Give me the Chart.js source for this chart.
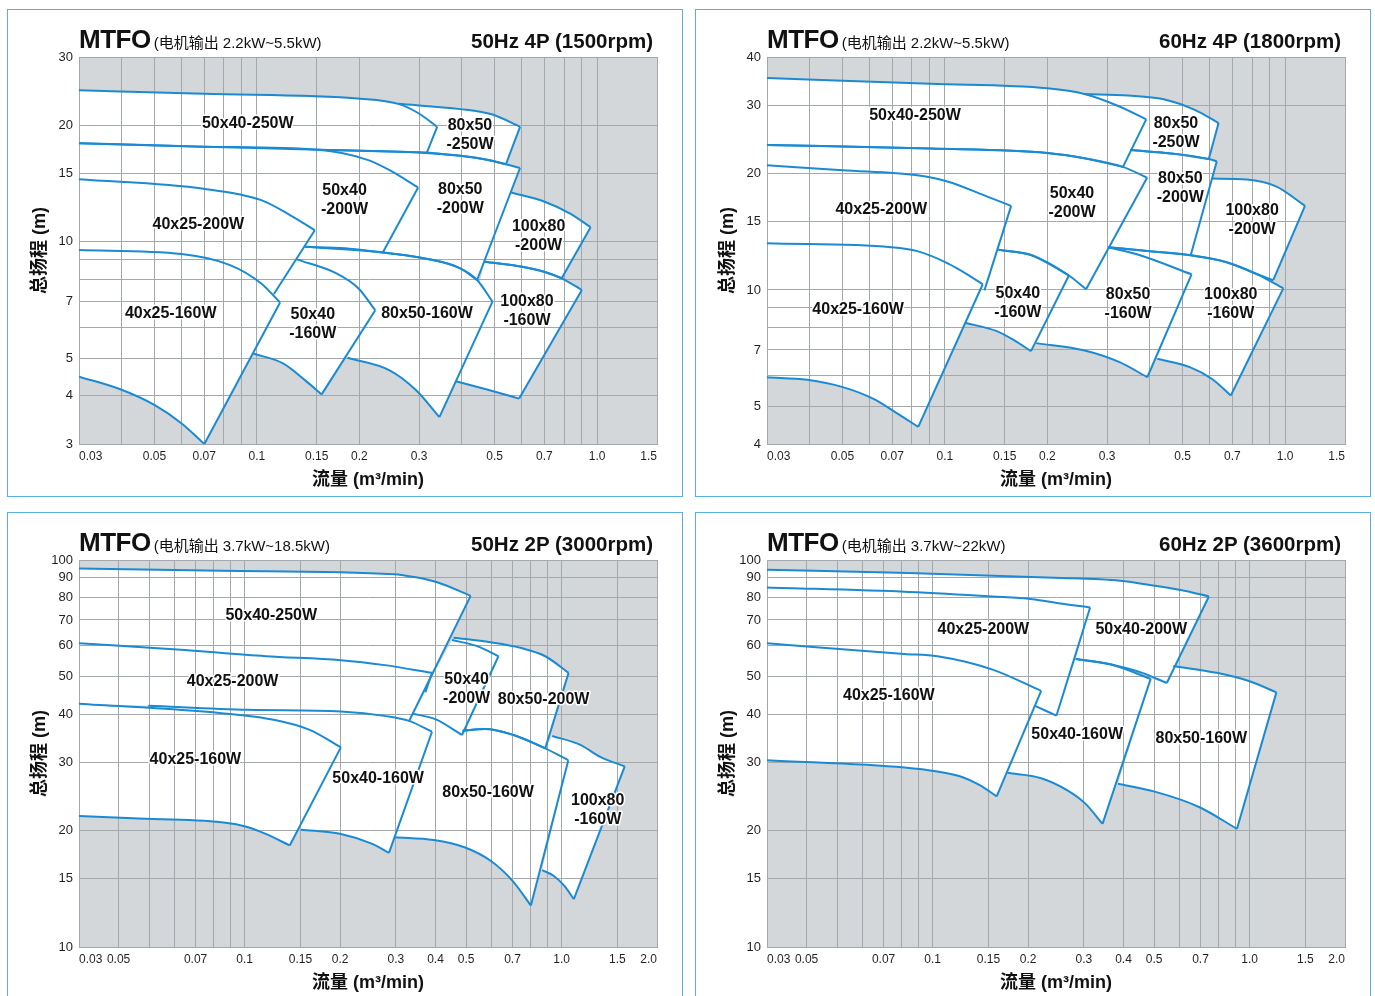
<!DOCTYPE html>
<html>
<head>
<meta charset="utf-8">
<script src="https://cdn.jsdelivr.net/npm/chart.js@4.4.1/dist/chart.umd.min.js"></script>
<style>
  body { margin: 0; width: 1375px; height: 996px; overflow: hidden; background: #fff;
         font-family: 'Liberation Sans', 'Noto Sans CJK SC', sans-serif; color: #111; }
  .panel { position: absolute; width: 676px; height: 488px; border: 1px solid #5aaee3; box-sizing: border-box; }
  .panel canvas { position: absolute; left: -1px; top: -1px; }
  .head { position: absolute; left: 71px; width: 574px; top: 14px; display: flex;
          justify-content: space-between; align-items: baseline; }
  .brand { font-weight: bold; font-size: 26px; letter-spacing: -0.5px; }
  .sub { font-size: 15px; margin-left: 3px; }
  .hz { font-weight: bold; font-size: 20.5px; }
</style>
</head>
<body>

<div class="panel" style="left:7px;top:9px">
  <canvas id="cA" width="676" height="488"></canvas>
  <div class="head"><span><span class="brand">MTFO</span><span class="sub">(电机输出 2.2kW~5.5kW)</span></span><span class="hz">50Hz 4P (1500rpm)</span></div>
</div>
<div class="panel" style="left:695px;top:9px">
  <canvas id="cB" width="676" height="488"></canvas>
  <div class="head"><span><span class="brand">MTFO</span><span class="sub">(电机输出 2.2kW~5.5kW)</span></span><span class="hz">60Hz 4P (1800rpm)</span></div>
</div>
<div class="panel" style="left:7px;top:512px">
  <canvas id="cC" width="676" height="488"></canvas>
  <div class="head"><span><span class="brand">MTFO</span><span class="sub">(电机输出 3.7kW~18.5kW)</span></span><span class="hz">50Hz 2P (3000rpm)</span></div>
</div>
<div class="panel" style="left:695px;top:512px">
  <canvas id="cD" width="676" height="488"></canvas>
  <div class="head"><span><span class="brand">MTFO</span><span class="sub">(电机输出 3.7kW~22kW)</span></span><span class="hz">60Hz 2P (3600rpm)</span></div>
</div>

<script>
// ---- axes: grid lines and tick labels ----
const xGrid4P = [0.03,0.04,0.05,0.06,0.07,0.08,0.09,0.1,0.15,0.2,0.3,0.4,0.5,0.6,0.7,0.8,0.9,1.0,1.5];
const xLabelAt4P = [0.03,0.05,0.07,0.1,0.15,0.2,0.3,0.5,0.7,1.0,1.5];
const xLabelText4P = ['0.03','0.05','0.07','0.1','0.15','0.2','0.3','0.5','0.7','1.0','1.5'];
const xGrid2P = [0.03,0.04,0.05,0.06,0.07,0.08,0.09,0.1,0.15,0.2,0.3,0.4,0.5,0.6,0.7,0.8,0.9,1.0,1.5,2.0];
const xLabelAt2P = [0.03,0.04,0.07,0.1,0.15,0.2,0.3,0.4,0.5,0.7,1.0,1.5,2.0];
const xLabelText2P = ['0.03','0.05','0.07','0.1','0.15','0.2','0.3','0.4','0.5','0.7','1.0','1.5','2.0'];

const yGridA = [3,4,5,6,7,8,9,10,15,20,30];
const yLabelA = [3,4,5,7,10,15,20,30];
const yGridB = [4,5,6,7,8,9,10,15,20,30,40];
const yLabelB = [4,5,7,10,15,20,30,40];
const yGrid2P = [10,15,20,30,40,50,60,70,80,90,100];
const yLabel2P = [10,15,20,30,40,50,60,70,80,90,100];

// ---- 50Hz 4P (1500rpm): [flow m3/min, head m] ----
const a_40x25_160W_top = [[0.03,9.51],[0.0601,9.29],[0.0834,8.70],[0.103,7.80],[0.117,6.96]];
const a_40x25_160W_bot = [[0.03,4.48],[0.0395,4.16],[0.0501,3.78],[0.0601,3.39],[0.0701,3.0]];
const a_40x25_200W_top = [[0.03,14.5],[0.0697,13.7],[0.103,12.8],[0.1234,11.8],[0.148,10.7]];
const a_40x25_200W_bot = [[0.03,9.51],[0.1122,7.32]];
const a_50x40_250W_top = [[0.03,24.6],[0.07,24.1],[0.2018,23.4],[0.2602,22.7],[0.2978,21.5],[0.3388,19.8]];
const a_50x40_250W_bot = [[0.03,17.96],[0.0697,17.6],[0.1517,17.27],[0.3162,17.0]];
const a_80x50_250W_top = [[0.2602,22.7],[0.396,22.0],[0.4926,21.3],[0.5936,19.8]];
const a_80x50_250W_bot = [[0.3162,17.0],[0.396,16.66],[0.4747,16.27],[0.5397,15.85]];
const a_50x40_200W_top = [[0.03,17.96],[0.0697,17.6],[0.1517,17.27],[0.2115,16.27],[0.2455,15.3],[0.2978,13.8]];
const a_50x40_200W_bot = [[0.1387,9.70],[0.1816,9.61],[0.2345,9.38]];
const a_50x40_200W_left = [[0.148,10.7],[0.03,14.5]];
const a_80x50_200W_top = [[0.1517,17.27],[0.2978,17.0],[0.396,16.66],[0.4747,16.27],[0.5397,15.85],[0.5936,15.5]];
const a_80x50_200W_bot = [[0.2345,9.38],[0.3117,9.05],[0.396,8.53],[0.4439,7.96]];
const a_50x40_160W_top = [[0.1309,9.0],[0.1713,8.28],[0.199,7.57],[0.2228,6.65]];
const a_50x40_160W_bot = [[0.0975,5.14],[0.1197,4.84],[0.1387,4.38],[0.155,4.03]];
const a_50x40_160W_left = [[0.117,6.96],[0.1122,7.32]];
const a_80x50_160W_top = [[0.1387,9.70],[0.2345,9.38],[0.3117,9.05],[0.396,8.53],[0.4439,7.96],[0.4926,7.0]];
const a_80x50_160W_bot = [[0.1845,5.01],[0.2455,4.65],[0.2938,4.13],[0.344,3.52]];
const a_80x50_160W_left = [[0.1309,9.0]];
const a_100x80_200W_top = [[0.559,13.4],[0.6985,12.7],[0.836,11.8],[0.957,10.9]];
const a_100x80_200W_bot = [[0.467,8.87],[0.602,8.61],[0.6985,8.36],[0.787,8.04]];
const a_100x80_160W_top = [[0.467,8.87],[0.602,8.61],[0.6985,8.36],[0.787,8.04],[0.902,7.5]];
const a_100x80_160W_bot = [[0.3844,4.36],[0.4747,4.15],[0.590,3.93]];
const a_labels = [['50x40-250W',0.094,20.2],['80x50\n-250W',0.423,18.8],['50x40\n-200W',0.181,12.8],
  ['80x50\n-200W',0.396,12.85],['40x25-200W',0.0673,11.1],['100x80\n-200W',0.673,10.34],
  ['40x25-160W',0.0558,6.5],['50x40\n-160W',0.146,6.14],['80x50-160W',0.3163,6.5],['100x80\n-160W',0.622,6.63]];

// ---- 60Hz 4P (1800rpm) ----
const b_40x25_160W_top = [[0.03,13.2],[0.0694,12.9],[0.083,12.6],[0.1023,11.7],[0.1188,10.85],[0.1292,10.35]];
const b_40x25_160W_bot = [[0.03,5.95],[0.0394,5.86],[0.0501,5.61],[0.0617,5.23],[0.0716,4.83],[0.0835,4.43]];
const b_40x25_200W_top = [[0.03,21.0],[0.0501,20.4],[0.083,19.8],[0.1023,19.05],[0.1339,17.4],[0.1566,16.5]];
const b_40x25_200W_bot = [[0.03,13.2],[0.1307,9.98]];
const b_50x40_250W_top = [[0.03,35.3],[0.0907,34.1],[0.2,33.2],[0.2572,32.1],[0.326,29.8],[0.3906,27.6]];
const b_50x40_250W_bot = [[0.03,23.7],[0.0907,23.2],[0.2,22.6],[0.2572,21.9],[0.3338,20.8]];
const b_80x50_250W_top = [[0.2572,32.1],[0.3459,31.8],[0.4397,31.1],[0.5425,29.2],[0.6375,27.0]];
const b_80x50_250W_bot = [[0.354,23.0],[0.4696,22.5],[0.5966,21.8]];
const b_50x40_200W_top = [[0.03,23.7],[0.0907,23.2],[0.2,22.6],[0.2572,21.9],[0.3338,20.8],[0.393,19.5]];
const b_50x40_200W_bot = [[0.1437,12.7],[0.18,12.3],[0.2315,10.9],[0.26,10.05]];
const b_50x40_200W_left = [[0.1566,16.5],[0.03,21.0]];
const b_80x50_200W_top = [[0.35,23.0],[0.4696,22.5],[0.5966,21.8],[0.63,21.5]];
const b_80x50_200W_bot = [[0.302,12.9],[0.4006,12.6],[0.528,12.3]];
const b_80x50_200W_left = [[0.3338,20.8]];
const b_50x40_160W_top = [[0.1437,12.7],[0.18,12.3],[0.2315,10.9]];
const b_50x40_160W_bot = [[0.1152,8.22],[0.142,7.83],[0.16,7.41],[0.1791,6.95]];
const b_80x50_160W_top = [[0.302,12.9],[0.3745,12.3],[0.531,10.98]];
const b_80x50_160W_bot = [[0.1856,7.29],[0.2575,6.98],[0.3262,6.51],[0.3936,5.95]];
const b_80x50_160W_left = [[0.2315,10.9]];
const b_100x80_200W_top = [[0.608,19.4],[0.771,19.3],[0.944,18.5],[1.144,16.5]];
const b_100x80_200W_bot = [[0.528,12.3],[0.673,11.8],[0.825,11.0],[0.923,10.6]];
const b_100x80_160W_top = [[0.302,12.9],[0.4006,12.6],[0.528,12.3],[0.673,11.8],[0.825,11.0],[0.988,10.1]];
const b_100x80_160W_bot = [[0.421,6.64],[0.5247,6.32],[0.61,5.89],[0.6925,5.34]];
const b_labels = [['50x40-250W',0.0817,28.2],['80x50\n-250W',0.4777,25.5],['80x50\n-200W',0.492,18.3],
  ['50x40\n-200W',0.2364,16.8],['40x25-200W',0.065,16.1],['100x80\n-200W',0.8,15.2],
  ['40x25-160W',0.0556,8.9],['50x40\n-160W',0.1638,9.26],['80x50\n-160W',0.3456,9.2],['100x80\n-160W',0.6925,9.2]];

// ---- 50Hz 2P (3000rpm) ----
const c_40x25_160W_top = [[0.03,42.5],[0.0845,40.2],[0.1245,38.6],[0.1604,36.4],[0.2011,32.8]];
const c_40x25_160W_bot = [[0.03,21.8],[0.0444,21.5],[0.0845,21.0],[0.1025,20.4],[0.1165,19.6],[0.1387,18.3]];
const c_40x25_200W_top = [[0.03,60.9],[0.0612,58.7],[0.1165,56.4],[0.2011,55.1],[0.277,53.5],[0.39,51.1]];
const c_40x25_200W_bot = [[0.03,42.5],[0.3715,45.5]];
const c_50x40_250W_top = [[0.03,95.1],[0.0845,93.8],[0.2954,91.9],[0.3466,90.2],[0.407,87.5],[0.5164,80.8]];
const c_50x40_250W_bot = [[0.03,42.5],[0.0496,42.0],[0.1025,41.0],[0.2011,40.6],[0.28,39.5],[0.33,38.3]];
const c_50x40_160W_top = [[0.0496,42.0],[0.1025,41.0],[0.2011,40.6],[0.28,39.5],[0.33,38.4],[0.39,36.0]];
const c_50x40_160W_bot = [[0.1505,20.1],[0.2011,19.6],[0.2516,18.5],[0.2853,17.5]];
const c_50x40_200W_top = [[0.451,62.1],[0.541,59.9],[0.632,56.4]];
const c_50x40_200W_bot = [[0.337,40.1],[0.3994,38.8],[0.485,35.3]];
const c_80x50_200W_top = [[0.456,63.0],[0.596,61.3],[0.741,59.3],[0.888,56.4],[1.052,51.1]];
const c_80x50_200W_bot = [[0.487,36.2],[0.574,36.6],[0.7054,35.3],[0.888,32.6]];
const c_80x50_160W_top = [[0.487,36.2],[0.574,36.6],[0.7054,35.3],[0.888,32.6],[1.05,30.4]];
const c_80x50_160W_bot = [[0.2983,19.2],[0.395,18.9],[0.4937,18.1],[0.597,16.7],[0.7013,14.8],[0.80,12.8]];
const c_80x50_160W_left = [[0.39,36.0],[0.33,38.3],[0.337,40.1],[0.3994,38.8],[0.485,35.3]];
const c_100x80_160W_top = [[0.934,35.1],[1.146,33.3],[1.324,31.0],[1.582,29.3]];
const c_100x80_160W_bot = [[0.868,15.8],[0.9406,15.3],[1.019,14.4],[1.093,13.3]];
const c_100x80_160W_left = [[1.05,30.4],[0.888,32.6]];
const c_labels = [['50x40-250W',0.1213,71.7],['40x25-200W',0.0916,48.6],['50x40\n-200W',0.5015,46.4],
  ['80x50-200W',0.8776,43.7],['40x25-160W',0.0699,30.5],['50x40-160W',0.2637,27.3],
  ['80x50-160W',0.586,25.0],['100x80\n-160W',1.3,22.6]];

// ---- 60Hz 2P (3600rpm) ----
const d_40x25_160W_top = [[0.03,60.9],[0.0815,57.2],[0.1035,56.4],[0.1545,52.1],[0.2199,45.9]];
const d_40x25_160W_bot = [[0.03,30.4],[0.0815,29.1],[0.1035,28.4],[0.1238,27.5],[0.1408,26.2],[0.1592,24.5]];
const d_40x25_200W_top = [[0.03,84.9],[0.0841,82.7],[0.1545,80.5],[0.2063,79.2],[0.2497,77.3],[0.3139,75.4]];
const d_40x25_200W_bot = [[0.2103,42.0],[0.2457,39.6]];
const d_40x25_200W_left = [[0.2199,45.9],[0.03,60.9]];
const d_50x40_200W_top = [[0.03,94.4],[0.0841,92.5],[0.2416,90.0],[0.39,88.4],[0.502,85.8],[0.628,83.2],[0.744,80.5]];
const d_50x40_200W_bot = [[0.2826,55.5],[0.366,53.7],[0.458,51.1],[0.548,48.1]];
const d_50x40_200W_left = [[0.3139,75.4],[0.03,84.9]];
const d_50x40_160W_top = [[0.2826,55.5],[0.366,53.7],[0.4873,49.3]];
const d_50x40_160W_bot = [[0.172,28.2],[0.2199,27.3],[0.2661,25.4],[0.3027,23.5],[0.3435,20.8]];
const d_50x40_160W_left = [[0.2103,42.0],[0.2457,39.6]];
const d_80x50_160W_top = [[0.5746,53.2],[0.787,51.1],[1.0,48.6],[1.215,45.5]];
const d_80x50_160W_bot = [[0.3844,26.4],[0.502,25.2],[0.6925,23.0],[0.9125,20.2]];
const d_80x50_160W_left = [[0.4873,49.3],[0.548,48.1]];
const d_labels = [['40x25-200W',0.1445,66.2],['50x40-200W',0.455,66.2],['40x25-160W',0.0727,44.6],
  ['50x40-160W',0.2857,35.3],['80x50-160W',0.704,34.6]];

// ---- styles ----
const BLUE = '#1a8bd3';
const GRID = '#a3a8ac';
const PLOT_BG = '#d4d7da';
const FONT = "'Liberation Sans', 'Noto Sans CJK SC', sans-serif";

// grey plot area, and grid again between the white fills and the blue curves
const plotBg = {
  id: 'plotBg',
  beforeDraw(chart) {
    const a = chart.chartArea, ctx = chart.ctx;
    ctx.save();
    ctx.fillStyle = PLOT_BG;
    ctx.fillRect(a.left, a.top, a.right - a.left, a.bottom - a.top);
    ctx.restore();
  },
  beforeDatasetsDraw(chart) { chart.$gridAgain = false; },
  beforeDatasetDraw(chart, args) {
    if (args.meta.order === 1 && !chart.$gridAgain) {
      chart.$gridAgain = true;
      for (const s of [chart.scales.x, chart.scales.y]) {
        s.drawGrid(chart.chartArea);
        if (s.drawBorder) s.drawBorder();
      }
    }
  }
};

function labelPlugin(items) {
  return {
    id: 'pumpLabels',
    afterDatasetsDraw(chart) {
      const ctx = chart.ctx, xs = chart.scales.x, ys = chart.scales.y;
      ctx.save();
      ctx.font = 'bold 16px ' + FONT;
      ctx.textAlign = 'center';
      ctx.textBaseline = 'middle';
      ctx.lineJoin = 'round';
      ctx.lineWidth = 3;
      ctx.strokeStyle = '#fff';
      ctx.fillStyle = '#111';
      items.forEach(([text, x, y]) => {
        const lines = text.split('\n');
        const px = xs.getPixelForValue(x), py = ys.getPixelForValue(y);
        lines.forEach((t, i) => {
          const ly = py + (i - (lines.length - 1) / 2) * 19;
          ctx.strokeText(t, px, ly);
          ctx.fillText(t, px, ly);
        });
      });
      ctx.restore();
    }
  };
}

const pts = arr => arr.map(([x, y]) => ({x, y}));

function pumpSets(p) {
  const stroke = {borderColor: BLUE, borderWidth: 2, pointRadius: 0, fill: false, order: 1};
  const sets = [{
    data: pts(p.top.concat(p.bot.slice().reverse(), p.left || [])),
    fill: 'shape', backgroundColor: '#fff', borderColor: 'rgba(0,0,0,0)', borderWidth: 0,
    pointRadius: 0, tension: 0, order: 2
  }];
  sets.push({...stroke, data: pts(p.top), cubicInterpolationMode: 'monotone'});
  sets.push({...stroke, data: pts([p.top[p.top.length - 1], p.bot[p.bot.length - 1]]), tension: 0});
  if (p.drawBot !== false) sets.push({...stroke, data: pts(p.bot), cubicInterpolationMode: 'monotone'});
  return sets;
}

function makeChart(id, c) {
  const datasets = [];
  c.pumps.forEach(p => datasets.push(...pumpSets(p)));
  const tickFont = {family: FONT, size: 12};
  const titleFont = {family: FONT, size: 18, weight: 'bold'};
  return new Chart(document.getElementById(id), {
    type: 'line',
    data: {datasets},
    options: {
      responsive: false,
      animation: false,
      events: [],
      layout: {padding: {left: 22, right: 26, top: 48, bottom: 6}},
      plugins: {legend: {display: false}, tooltip: {enabled: false}},
      scales: {
        x: {
          type: 'logarithmic', min: c.xGrid[0], max: c.xGrid[c.xGrid.length - 1], bounds: 'data',
          afterBuildTicks: s => { s.ticks = c.xGrid.map(v => ({value: v})); },
          afterFit: s => { s.height = 47; },
          grid: {color: GRID, lineWidth: 1, drawTicks: false},
          border: {color: GRID, width: 1},
          ticks: {
            autoSkip: false, maxRotation: 0, minRotation: 0, padding: 5, align: 'inner',
            color: '#231f20', font: tickFont,
            callback: v => { const i = c.xLabelAt.indexOf(v); return i >= 0 ? c.xLabelText[i] : ''; }
          },
          title: {display: true, text: '流量 (m³/min)', color: '#111', font: titleFont, padding: 0}
        },
        y: {
          type: 'logarithmic', min: c.yGrid[0], max: c.yGrid[c.yGrid.length - 1], bounds: 'data',
          afterBuildTicks: s => { s.ticks = c.yGrid.map(v => ({value: v})); },
          afterFit: s => { s.width = 50; },
          grid: {color: GRID, lineWidth: 1, drawTicks: false},
          border: {color: GRID, width: 1},
          ticks: {
            autoSkip: false, padding: 6, color: '#231f20', font: {family: FONT, size: 13},
            callback: v => c.yLabelAt.includes(v) ? String(v) : ''
          },
          title: {display: true, text: '总扬程 (m)', color: '#111', font: titleFont, padding: 0}
        }
      }
    },
    plugins: [plotBg, labelPlugin(c.labels)]
  });
}

makeChart('cA', {
  xGrid: xGrid4P, xLabelAt: xLabelAt4P, xLabelText: xLabelText4P, yGrid: yGridA, yLabelAt: yLabelA,
  labels: a_labels,
  pumps: [
    {top: a_50x40_250W_top, bot: a_50x40_250W_bot},
    {top: a_80x50_250W_top, bot: a_80x50_250W_bot},
    {top: a_50x40_200W_top, bot: a_50x40_200W_bot, left: a_50x40_200W_left},
    {top: a_80x50_200W_top, bot: a_80x50_200W_bot},
    {top: a_40x25_200W_top, bot: a_40x25_200W_bot, drawBot: false},
    {top: a_100x80_200W_top, bot: a_100x80_200W_bot},
    {top: a_40x25_160W_top, bot: a_40x25_160W_bot},
    {top: a_50x40_160W_top, bot: a_50x40_160W_bot, left: a_50x40_160W_left},
    {top: a_80x50_160W_top, bot: a_80x50_160W_bot, left: a_80x50_160W_left},
    {top: a_100x80_160W_top, bot: a_100x80_160W_bot}
  ]
});

makeChart('cB', {
  xGrid: xGrid4P, xLabelAt: xLabelAt4P, xLabelText: xLabelText4P, yGrid: yGridB, yLabelAt: yLabelB,
  labels: b_labels,
  pumps: [
    {top: b_50x40_250W_top, bot: b_50x40_250W_bot},
    {top: b_80x50_250W_top, bot: b_80x50_250W_bot},
    {top: b_50x40_200W_top, bot: b_50x40_200W_bot, left: b_50x40_200W_left},
    {top: b_80x50_200W_top, bot: b_80x50_200W_bot, left: b_80x50_200W_left},
    {top: b_40x25_200W_top, bot: b_40x25_200W_bot, drawBot: false},
    {top: b_100x80_200W_top, bot: b_100x80_200W_bot},
    {top: b_40x25_160W_top, bot: b_40x25_160W_bot},
    {top: b_50x40_160W_top, bot: b_50x40_160W_bot},
    {top: b_80x50_160W_top, bot: b_80x50_160W_bot, left: b_80x50_160W_left},
    {top: b_100x80_160W_top, bot: b_100x80_160W_bot}
  ]
});

makeChart('cC', {
  xGrid: xGrid2P, xLabelAt: xLabelAt2P, xLabelText: xLabelText2P, yGrid: yGrid2P, yLabelAt: yLabel2P,
  labels: c_labels,
  pumps: [
    {top: c_50x40_250W_top, bot: c_50x40_250W_bot, drawBot: false},
    {top: c_40x25_200W_top, bot: c_40x25_200W_bot, drawBot: false},
    {top: c_50x40_200W_top, bot: c_50x40_200W_bot},
    {top: c_80x50_200W_top, bot: c_80x50_200W_bot},
    {top: c_40x25_160W_top, bot: c_40x25_160W_bot},
    {top: c_50x40_160W_top, bot: c_50x40_160W_bot},
    {top: c_80x50_160W_top, bot: c_80x50_160W_bot, left: c_80x50_160W_left},
    {top: c_100x80_160W_top, bot: c_100x80_160W_bot, left: c_100x80_160W_left}
  ]
});

makeChart('cD', {
  xGrid: xGrid2P, xLabelAt: xLabelAt2P, xLabelText: xLabelText2P, yGrid: yGrid2P, yLabelAt: yLabel2P,
  labels: d_labels,
  pumps: [
    {top: d_50x40_200W_top, bot: d_50x40_200W_bot, left: d_50x40_200W_left},
    {top: d_40x25_200W_top, bot: d_40x25_200W_bot, left: d_40x25_200W_left},
    {top: d_40x25_160W_top, bot: d_40x25_160W_bot},
    {top: d_50x40_160W_top, bot: d_50x40_160W_bot, left: d_50x40_160W_left},
    {top: d_80x50_160W_top, bot: d_80x50_160W_bot, left: d_80x50_160W_left}
  ]
});
</script>
</body>
</html>
